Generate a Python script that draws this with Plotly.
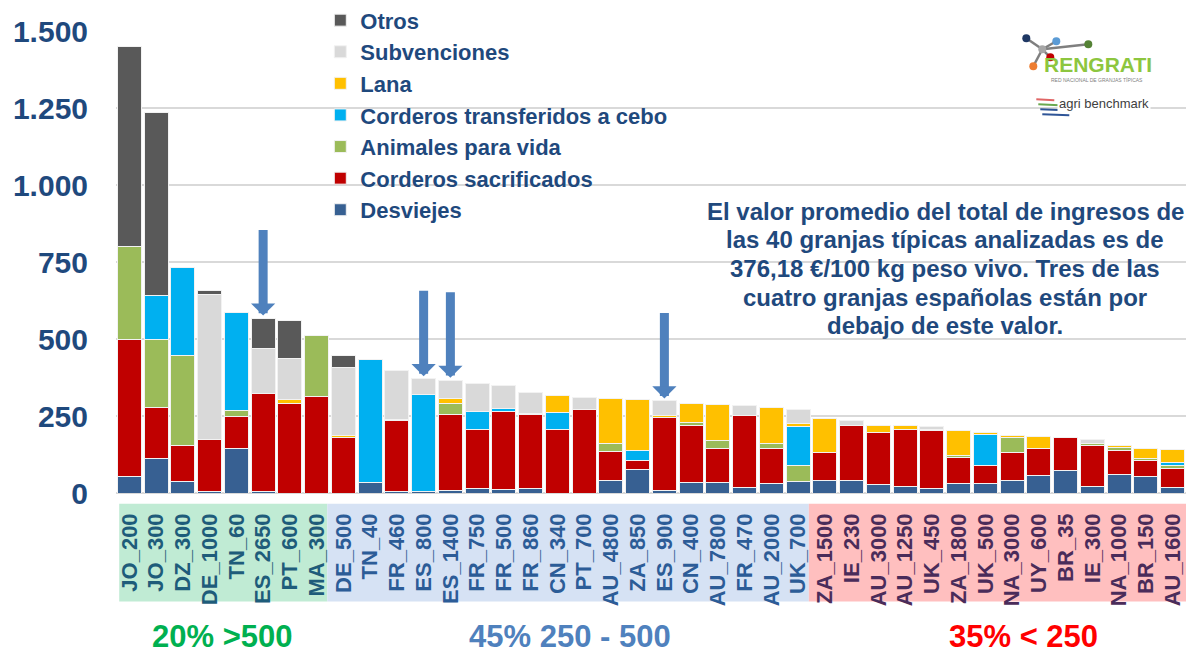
import plotly.graph_objects as go

# ---------------- data ----------------
farms = ["JO_200", "JO_300", "DZ_300", "DE_1000", "TN_60", "ES_2650", "PT_600", "MA_300",
         "DE_500", "TN_40", "FR_460", "ES_800", "ES_1400", "FR_750", "FR_500", "FR_860",
         "CN_340", "PT_700", "AU_4800", "ZA_850", "ES_900", "CN_400", "AU_7800", "FR_470",
         "AU_2000", "UK_700", "ZA_1500", "IE_230", "AU_3000", "AU_1250", "UK_450", "ZA_1800",
         "UK_500", "NA_3000", "UY_600", "BR_35", "IE_300", "NA_1000", "BR_150", "AU_1600"]

desviejes = [52, 113, 37, 6, 143, 4, 0, 0, 0, 34, 6, 4, 8, 14, 11, 14, 0, 0, 40, 75,
             7, 33, 33, 18, 31, 37, 42, 40, 29, 21, 16, 30, 32, 40, 58, 72, 21, 59, 52, 17]
corderos_sacrificados = [448, 165, 117, 168, 105, 318, 291, 312, 180, 0, 229, 0, 247, 192, 254, 242,
                         207, 272, 95, 32, 239, 186, 113, 233, 112, 0, 88, 179, 169, 184, 186, 84,
                         58, 90, 86, 107, 134, 80, 54, 61]
animales_vida = [301, 222, 291, 0, 19, 0, 0, 199, 0, 0, 0, 0, 34, 0, 0, 0, 0, 0, 27, 0,
                 0, 11, 25, 0, 19, 51, 0, 0, 0, 0, 0, 8, 0, 50, 0, 0, 6, 8, 7, 10]
corderos_transferidos = [0, 140, 286, 0, 320, 0, 0, 0, 0, 398, 0, 315, 0, 58, 8, 0, 56, 0, 0, 30,
                         0, 0, 0, 0, 0, 128, 0, 0, 0, 0, 0, 0, 99, 0, 0, 0, 0, 0, 0, 10]
lana = [0, 0, 2, 0, 0, 0, 13, 2, 7, 0, 4, 0, 17, 0, 0, 2, 52, 0, 146, 165,
        5, 62, 116, 0, 114, 9, 113, 0, 21, 13, 3, 82, 7, 6, 41, 0, 0, 6, 31, 43]
subvenciones = [0, 0, 0, 472, 0, 148, 134, 0, 220, 0, 158, 52, 60, 93, 77, 68, 0, 39, 0, 0,
                48, 0, 0, 34, 0, 45, 0, 16, 0, 0, 11, 0, 0, 0, 0, 0, 14, 0, 0, 0]
otros = [649, 595, 0, 12, 0, 98, 123, 0, 38, 0, 0, 0, 0, 0, 0, 0, 0, 0, 0, 0,
         0, 0, 0, 0, 0, 0, 0, 0, 0, 0, 0, 0, 0, 0, 0, 0, 0, 0, 0, 0]

series_names = ["Desviejes", "Corderos sacrificados", "Animales para vida",
                "Corderos transferidos a cebo", "Lana", "Subvenciones", "Otros"]
series_values = [desviejes, corderos_sacrificados, animales_vida, corderos_transferidos,
                 lana, subvenciones, otros]
series_colors = ["#376092", "#C00000", "#9BBB59", "#00B0F0", "#FFC000", "#D9D9D9", "#595959"]

group_labels = ["20% >500", "45% 250 - 500", "35% < 250"]
group_sizes = [8, 18, 14]
arrow_farms = ["ES_2650", "ES_800", "ES_1400", "ES_900"]
note_lines = ["El valor promedio del total de ingresos de",
              "las 40 granjas típicas analizadas es de",
              "376,18 €/100 kg peso vivo. Tres de las",
              "cuatro granjas españolas están por",
              "debajo de este valor."]

# ---------------- geometry ----------------
# the page body has an 8px margin, so the figure is drawn 8px smaller and offset
OFF = 8
W, H = 1197 - OFF, 654 - OFF
PLOT_L, PLOT_R, PLOT_T, PLOT_B = 115.7, 1185.7, 30.7, 493.3   # absolute page pixels
L, T = PLOT_L - OFF, PLOT_T - OFF
R, B = (W + OFF) - PLOT_R, (H + OFF) - PLOT_B
PW, PH = PLOT_R - PLOT_L, PLOT_B - PLOT_T


def px(x):
    return (x - PLOT_L) / PW


def py(y):
    return (PLOT_B - y) / PH


TXT = "#1F497D"
FONT = "Liberation Sans, Arial, sans-serif"

fig = go.Figure()
for name, vals, col in zip(series_names, series_values, series_colors):
    fig.add_trace(go.Bar(x=farms, y=vals, name=name, marker_color=col,
                         marker_line=dict(color="#F2F2F2", width=1)))

group_text_colors = ["#1E5C7A", "#2C5C97", "#4A2C5A"]
group_bg = ["#C0EBD4", "#D6E2F4", "#FFBFBF"]
group_label_colors = ["#00B050", "#4F81BD", "#FF0000"]
ticktext = []
idx = 0
for g, n in enumerate(group_sizes):
    for k in range(n):
        ticktext.append(f'<span style="color:{group_text_colors[g]}">{farms[idx]}</span>')
        idx += 1

fig.update_layout(
    width=W, height=H,
    margin=dict(l=L, r=R, t=T, b=B, pad=0, autoexpand=False),
    barmode="stack", bargap=0.1,
    plot_bgcolor="white", paper_bgcolor="white",
    separators=",.",
    showlegend=True,
    legend=dict(traceorder="reversed", x=px(320), y=py(-1), xanchor="left", yanchor="top",
                bgcolor="rgba(0,0,0,0)",
                font=dict(family=FONT, size=22, color=TXT, weight=700)),
    xaxis=dict(type="category", tickmode="array", tickvals=farms, ticktext=ticktext,
               tickangle=-90, ticklabelstandoff=15, automargin=False,
               tickfont=dict(family=FONT, size=22, weight=700), showgrid=False,
               showline=False, ticks="", range=[-0.5, len(farms) - 0.5]),
    yaxis=dict(range=[0, 1500], dtick=250, separatethousands=True, automargin=False,
               tickfont=dict(family=FONT, size=30, color=TXT, weight=700),
               gridcolor="#D9D9D9", gridwidth=1.5, zeroline=True, zerolinecolor="#D9D9D9",
               zerolinewidth=1.5, showline=False, ticks="", ticklabelstandoff=27),
)

# label bands
start = 0
for g, n in enumerate(group_sizes):
    x0 = start - 0.38 if g == 0 else start - 0.6
    x1 = start + n - 0.6 if g < 2 else start + n - 0.45
    fig.add_shape(type="rect", xref="x", yref="paper", x0=x0, x1=x1,
                  y0=py(602), y1=py(504), fillcolor=group_bg[g], line_width=0, layer="below")
    start += n

# group labels below
for g, lab in enumerate(group_labels):
    cx = [222, 570, 1023][g]
    fig.add_annotation(x=px(cx), y=py(636.5), xref="paper", yref="paper", text=f"<b>{lab}</b>",
                       xanchor="center", yanchor="middle", showarrow=False, borderpad=0,
                       font=dict(family=FONT, size=31, color=group_label_colors[g]))

# arrows to Spanish farms
totals = [sum(v[i] for v in series_values) for i in range(len(farms))]
for f in arrow_farms:
    i = farms.index(f)
    fig.add_annotation(x=f, y=totals[i] + 8, xref="x", yref="y", ax=0, ay=-87,
                       showarrow=True, arrowhead=1, arrowsize=0.45, arrowwidth=9,
                       arrowcolor="#4F81BD", text="")

# note text, one line per annotation to match the tight line spacing
for k, line in enumerate(note_lines):
    fig.add_annotation(x=px(945), y=py(211 + 28.75 * k), xref="paper", yref="paper", text=line,
                       showarrow=False, xanchor="center", yanchor="middle", borderpad=0,
                       font=dict(family=FONT, size=24, color=TXT, weight=700))

# logo approximations (decoration)
nodes = [((1026, 38), "#1F3864"), ((1042, 49), "#A6A6A6"), ((1056, 41), "#5B9BD5"),
         ((1088, 44), "#548235"), ((1050, 57), "#C00000"), ((1033, 66), "#ED7D31")]
links = [(0, 1), (1, 3), (1, 5), (1, 4), (2, 1)]
for a, b in links:
    (xa, ya), (xb, yb) = nodes[a][0], nodes[b][0]
    fig.add_shape(type="line", xref="paper", yref="paper", x0=px(xa), y0=py(ya), x1=px(xb), y1=py(yb),
                  line=dict(color="#7F7F7F", width=2.5), layer="above")
for (x, y), c in nodes:
    r = 4
    fig.add_shape(type="circle", xref="paper", yref="paper", x0=px(x - r), x1=px(x + r),
                  y0=py(y + r), y1=py(y - r), fillcolor=c, line_width=0, layer="above")
fig.add_annotation(x=px(1098), y=py(64), xref="paper", yref="paper", text="<b>RENGRATI</b>",
                   xanchor="center", yanchor="middle", showarrow=False,
                   font=dict(family="Liberation Sans Narrow, Liberation Sans", size=21,
                             color="#8DC63F"))
fig.add_annotation(x=px(1097), y=py(80), xref="paper", yref="paper",
                   text="RED NACIONAL DE GRANJAS TÍPICAS", showarrow=False,
                   xanchor="center", yanchor="middle",
                   font=dict(family=FONT, size=5, color="#7F7F7F"))
for k, c in enumerate(["#E06666", "#6AA84F", "#2F5597", "#2F5597"]):
    y = 99 + k * 5
    fig.add_shape(type="line", xref="paper", yref="paper", x0=px(1036 + k * 2), x1=px(1054 + k * 5),
                  y0=py(y), y1=py(y + 1), line=dict(color=c, width=2), layer="above")
fig.add_annotation(x=px(1104), y=py(103), xref="paper", yref="paper", text="agri benchmark",
                   xanchor="center", yanchor="middle", showarrow=False, bgcolor="white",
                   font=dict(family="Liberation Sans, Arial", size=13, color="#404040"))

fig.write_html("out.html")
